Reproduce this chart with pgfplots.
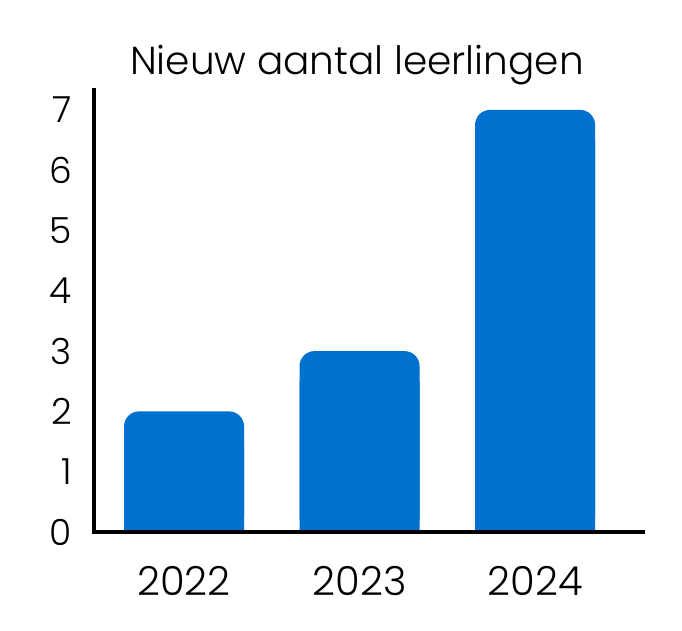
\documentclass[border=0pt]{standalone}
\usepackage{fontspec}
\IfFontExistsTF{Poppins-Light.ttf}{\setmainfont{Poppins-Light.ttf}}{%
 \IfFontExistsTF{Poppins Light}{\setmainfont{Poppins Light}}{%
  \IfFontExistsTF{Lato Light}{\setmainfont{Lato Light}}{%
   \IfFontExistsTF{Fira Sans Light}{\setmainfont{Fira Sans Light}}{\setmainfont{Poppins}}}}}
\usepackage{pgfplots}
\pgfplotsset{compat=1.18}
\definecolor{barblue}{HTML}{0071CE}
\begin{document}
\begin{tikzpicture}
\path[use as bounding box] (0,0) rectangle (682pt,630pt);
\begin{axis}[
  at={(94pt,98pt)}, anchor=south west,
  scale only axis, width=549pt, height=442pt,
  xmin=-0.513, xmax=2.615, ymin=0, ymax=7.33,
  axis lines*=left,
  axis on top,
  axis line style={line width=4pt, black, line cap=rect},
  ybar, bar shift=0pt,
  xtick={0,1,2}, xticklabels={2022,2023,2024},
  ytick={0,1,...,7},
  major tick length=0pt,
  tick style={draw=none},
  /pgf/number format/assume math mode=true,
  xticklabel style={font=\fontsize{40}{40}\selectfont, anchor=north, inner sep=0pt, yshift=-34pt},
  yticklabel style={font=\fontsize{36}{36}\selectfont, anchor=east, inner sep=0pt, xshift=-22pt},
  title={Nieuw aantal leerlingen},
  title style={font=\fontsize{39}{39}\selectfont, anchor=base, at={(rel axis cs:0.479,1)}, yshift=10pt, inner sep=0pt},
]
\addplot[ybar, bar width=0.684, bar shift=0pt, fill=barblue, draw=none, rounded corners=15pt] coordinates {(0,2) (1,3) (2,7)};
\addplot[ybar, bar width=0.684, bar shift=0pt, fill=barblue, draw=none, sharp corners] coordinates {(0,1.5) (1,2.5) (2,6.5)};
\end{axis}
\end{tikzpicture}
\end{document}
